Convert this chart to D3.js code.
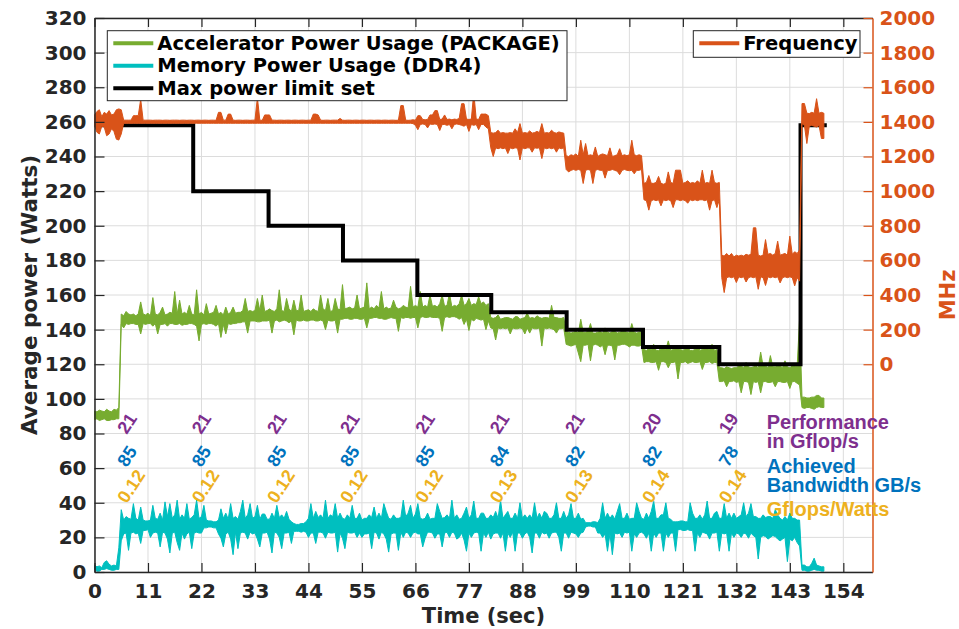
<!DOCTYPE html>
<html>
<head>
<meta charset="utf-8">
<script src="https://cdn.jsdelivr.net/npm/d3@7"></script>
<style>
  body { margin: 0; background: #fff; }
  svg { display: block; }
</style>
</head>
<body>
<svg id="chart" width="959" height="629"></svg>
<script>
// ---- Data: one sample every 0.5 s, t = 0 .. 150 s ----
const timeSec = d3.range(301).map(k => k / 2);

// Accelerator power usage (PACKAGE), W — lower / upper envelope per sample
const pkgLow = [
  88, 88.5, 87.5, 88, 88.5, 87.5, 87.5, 88, 88, 88.5,
  88.5, 143, 141, 143.5, 143, 143.5, 143.5, 143, 143, 137.5,
  143.5, 143, 143.5, 143.5, 142, 143.5, 137.5, 143, 143, 143.5,
  142, 143.5, 143.5, 143, 143, 143.5, 142.5, 143, 143, 143.5,
  143.5, 143, 142, 133.5, 143, 143.5, 143, 143.5, 143.5, 143,
  142, 143.5, 135.5, 143, 137.5, 143.5, 143, 143.5, 143.5, 144,
  144, 144.5, 144.5, 138, 145, 145, 145, 144.5, 144.5, 145,
  145, 145, 145.5, 138, 145, 145.5, 144.5, 145, 145.5, 145,
  144, 145, 137, 145.5, 145, 145, 145.5, 145, 145, 145.5,
  145.5, 145, 145, 145.5, 145, 140, 145.5, 145, 145, 145.5,
  138, 146, 146, 146.5, 146.5, 146, 146, 146.5, 146.5, 146,
  146, 146.5, 141, 146.5, 146.5, 147, 147, 146.5, 146.5, 146,
  146, 146.5, 147, 146.5, 146.5, 139, 147, 146.5, 147, 147,
  146.5, 147, 147, 141, 147, 147.5, 147, 147, 147.5, 147,
  147, 147, 146.5, 139, 147, 147.5, 147, 147.5, 147.5, 147,
  146, 147, 143, 146, 139.5, 146, 145, 146.5, 146, 145.5,
  146, 140, 145, 141, 140.5, 134, 141, 140.5, 141, 140.5,
  141, 137.5, 141, 140.5, 140.5, 141, 140.5, 137.5, 141, 138,
  141, 140.5, 140.5, 141, 130.5, 141, 140.5, 141, 140.5, 140,
  138, 140.5, 140.5, 141, 131.5, 131, 130.5, 131, 131.5, 126.5,
  121.5, 131, 131, 131.5, 122, 131, 131.5, 131, 130, 131,
  125.5, 131, 131, 130.5, 122.5, 131, 131, 131.5, 131.5, 131,
  130, 131, 131, 130.5, 130.5, 131, 121, 121.5, 121.5, 121,
  121, 121.5, 116.5, 121.5, 121.5, 121, 118, 121, 121, 121.5,
  111.5, 121, 121, 121.5, 120.5, 121, 121.5, 121, 121, 121.5,
  117, 121, 121, 121.5, 120.5, 121, 121, 110, 110, 110.5,
  107, 110, 110, 110.5, 109.5, 110, 103.5, 110, 110, 109.5,
  102.5, 110, 109.5, 110, 103.5, 110, 110, 109.5, 109.5, 110,
  107, 110, 110, 109.5, 109.5, 110, 106, 110, 110, 109,
  108, 95, 94.5, 95, 95, 94.5, 94, 95, 95.5, 95,
  95
];
const pkgHigh = [
  93, 92.5, 93.5, 93, 92.5, 94, 93, 92.5, 94, 93.5,
  95, 149, 148, 150.5, 149, 148.5, 149, 148, 149, 156,
  149, 148.5, 149.5, 148, 158.5, 149, 148.5, 150, 153, 148.5,
  149, 150, 149.5, 162, 149, 157, 149, 150, 149, 154,
  149, 148.5, 163, 149, 150, 148.5, 155, 149, 149.5, 150,
  154, 149, 150, 148.5, 153, 149, 150, 153, 149.5, 150,
  150, 151, 158, 150.5, 151, 150.5, 151, 158, 151, 160,
  150.5, 151, 152, 151, 150.5, 152, 163, 151, 150.5, 158,
  152, 150.5, 157, 151, 151, 160, 150.5, 151, 151.5, 150.5,
  152, 151, 150.5, 160, 152, 151, 158, 150.5, 151, 158,
  152, 151.5, 166, 152, 152.5, 153, 152, 152.5, 160, 152,
  152.5, 153, 167, 152, 153, 152, 154, 152.5, 162, 152,
  153, 152, 152.5, 157, 153, 152, 152.5, 154, 153, 152.5,
  165, 153, 154, 153, 162, 153, 154, 153, 160, 153.5,
  154, 153, 155, 160, 153.5, 154, 161, 153, 154, 153.5,
  155, 160, 154, 155, 158, 154, 155, 154.5, 159, 155,
  156, 154, 155, 147, 146.5, 147, 148.5, 146, 146.5, 147,
  147, 146.5, 146, 147.5, 147.5, 146, 146.5, 147, 149.5, 146.5,
  147, 146.5, 148, 147, 146.5, 147, 147, 146.5, 154, 147,
  147, 146.5, 146.5, 147, 139, 138.5, 138, 138.5, 139, 138,
  146, 138.5, 138.5, 139, 143.5, 138, 138, 138.5, 139, 138,
  141, 138.5, 138, 139, 139, 138, 138.5, 139, 139, 138.5,
  138, 143.5, 138.5, 138, 138.5, 139, 128.5, 128, 129, 128.5,
  131.5, 128, 128, 129, 129, 128.5, 133.5, 128, 128.5, 129,
  129, 128.5, 128, 129, 129.5, 128, 128, 128.5, 131, 128,
  128.5, 129, 129, 128.5, 131.5, 128, 128.5, 118, 118, 117.5,
  118.5, 118, 117.5, 118, 118, 119, 119, 118, 121, 118.5,
  118, 118.5, 119, 118, 127, 119, 119, 118, 125, 118.5,
  118.5, 119, 119, 118, 122, 118.5, 118, 119, 119, 118.5,
  146, 101, 101, 100.5, 100.5, 101, 101, 102, 102, 100.5,
  100.5
];

// Memory power usage (DDR4), W
const ddrLow = [
  1.5, 0.5, 0.5, 1.5, 1.5, 2, 1.5, 1, 1, 1.5,
  1.5, 18, 22, 22.5, 12.5, 22.5, 23, 22, 22.5, 16.5,
  24, 24, 24.5, 20, 22.5, 23, 22.5, 14.5, 23, 22.5,
  19, 11, 22.5, 23, 17, 12.5, 22.5, 19, 22, 23,
  13.5, 22.5, 23, 22.5, 22.5, 25.5, 25.5, 26, 26, 25.5,
  25.5, 22, 19.5, 14.5, 22, 23, 19, 10, 23, 13.5,
  22.5, 23, 22.5, 19, 23, 22, 22.5, 19, 14.5, 22.5,
  22.5, 23, 19, 11, 23, 22.5, 20, 13.5, 22.5, 22.5,
  23, 16.5, 23.5, 23.5, 23.5, 23, 23.5, 23, 20, 22.5,
  22.5, 16.5, 23, 23, 22.5, 19.5, 23, 22.5, 22.5, 23,
  11.5, 22.5, 19.5, 13.5, 23, 22.5, 22.5, 23, 20, 22.5,
  20, 22, 22, 22.5, 13.5, 23, 22.5, 19, 23, 22,
  19, 11.5, 22, 22.5, 22.5, 12.5, 23, 20, 23, 22.5,
  20, 22.5, 23, 22, 22, 14.5, 19.5, 23, 23, 22.5,
  19.5, 22, 22, 14.5, 22.5, 23, 20, 23, 22.5, 19,
  20, 22.5, 18.5, 12, 22.5, 20, 22.5, 23, 22.5, 12,
  22.5, 20, 23, 19, 22, 22.5, 22.5, 19.5, 22.5, 12,
  22.5, 20, 23, 12, 22.5, 22.5, 19.5, 22, 23, 20,
  11, 22.5, 22.5, 19.5, 23, 22, 22.5, 19.5, 22.5, 23,
  23, 20, 12, 22.5, 22.5, 19.5, 23, 22.5, 22, 20,
  22.5, 23, 26, 26.5, 26.5, 26, 26, 22.5, 22.5, 20,
  22, 12, 22, 10, 22.5, 22, 22.5, 20, 23, 22.5,
  23, 12, 22, 20, 22.5, 23, 22, 19.5, 22.5, 12,
  22.5, 20, 22.5, 22.5, 12, 22.5, 20, 22.5, 22.5, 12,
  24.5, 24.5, 24, 24, 24.5, 24, 24, 12, 22.5, 20,
  23, 22.5, 22, 19, 22.5, 22.5, 23, 12, 22.5, 22,
  22.5, 12, 22.5, 20, 22.5, 22, 20, 22.5, 22, 19.5,
  22.5, 21, 20, 7.5, 20, 21, 20.5, 19, 20, 21,
  20.5, 19, 18, 19, 20, 6, 19, 18, 20, 17,
  15, 1, 1, 0.5, 0.5, 1, 1.5, 1, 1, 0.5,
  0.5
];
const ddrHigh = [
  4, 3, 3.5, 2.5, 5.5, 6.5, 4.5, 3.5, 4, 3.5,
  14, 36, 30, 32, 31, 30.5, 39.5, 31, 30, 37.5,
  30, 29.5, 29.5, 30, 38.5, 31, 30.5, 34, 30, 40.5,
  32, 39.5, 31, 33, 41.5, 30.5, 33, 31, 39.5, 30.5,
  31.5, 33, 41.5, 31, 32, 38.5, 30, 29.5, 29.5, 29,
  29, 30, 36.5, 31, 34, 30.5, 39.5, 31, 32, 30.5,
  35, 41.5, 31, 33, 39.5, 31, 32, 38.5, 30.5, 33.5,
  33.5, 30.5, 30.5, 34, 31, 38.5, 31.5, 33, 31, 35,
  30.5, 29, 28, 27.5, 27.5, 28, 28, 29, 31, 39.5,
  31, 35, 31.5, 33, 31, 41.5, 31, 33, 32, 39.5,
  31, 34, 31, 30.5, 33, 31, 38.5, 31, 31, 34,
  30, 31, 31, 33, 31.5, 37.5, 31, 34, 31, 39.5,
  35, 31, 30.5, 33, 31, 31, 31.5, 41.5, 32, 34,
  38.5, 31, 33.5, 39.5, 31, 30.5, 31, 34, 30.5, 31,
  31, 39.5, 35, 31, 31.5, 33, 31, 41.5, 31, 33,
  30.5, 31, 34, 37.5, 31, 33, 41, 31, 31, 34,
  34, 31, 31, 33, 31.5, 35, 31, 41.5, 31, 33,
  35, 31, 31, 34, 31, 40, 31, 33, 31, 33,
  31, 40, 31, 34, 31, 35, 34, 31, 31, 33,
  40, 31, 31, 35, 31, 33, 39.5, 31, 31, 34,
  30.5, 31, 28.5, 28.5, 28.5, 29, 29, 28.5, 31, 40,
  31, 34, 31, 33, 30.5, 35, 39.5, 31, 31, 34,
  30.5, 31, 31, 40, 35, 31, 30.5, 34, 31, 35,
  41, 31, 31, 33, 33, 40, 31, 30.5, 29, 29,
  29, 29.5, 29.5, 29, 29, 40, 34, 31, 31, 33,
  30.5, 33, 41, 31, 31, 34, 35, 31, 31, 39.5,
  31, 34, 31, 34, 31, 32, 33, 40, 32, 34,
  39.5, 32, 32, 31, 31, 33, 31.5, 32, 32, 31,
  36, 33, 31, 30, 32, 30, 34, 31, 31, 30,
  30, 4, 4, 3, 3, 5, 8, 4, 3.5, 3,
  3
];

// Frequency, MHz
const freqLow = [
  1380, 1340, 1330, 1375, 1370, 1320, 1330, 1360, 1345, 1300,
  1295, 1330, 1392, 1392, 1392, 1392, 1392, 1392, 1392, 1392,
  1392, 1392, 1392, 1392, 1392, 1392, 1392, 1392, 1392, 1392,
  1392, 1392, 1392, 1392, 1392, 1392, 1392, 1392, 1392, 1392,
  1392, 1392, 1392, 1392, 1392, 1392, 1392, 1392, 1392, 1392,
  1392, 1392, 1392, 1392, 1392, 1392, 1392, 1392, 1392, 1392,
  1392, 1392, 1392, 1392, 1392, 1392, 1392, 1392, 1392, 1392,
  1392, 1392, 1392, 1392, 1392, 1392, 1392, 1392, 1392, 1392,
  1392, 1392, 1392, 1392, 1392, 1392, 1392, 1392, 1392, 1392,
  1392, 1392, 1392, 1392, 1392, 1392, 1392, 1392, 1392, 1392,
  1392, 1392, 1392, 1392, 1392, 1392, 1392, 1392, 1392, 1392,
  1392, 1392, 1392, 1392, 1392, 1392, 1392, 1392, 1392, 1392,
  1392, 1392, 1392, 1392, 1392, 1392, 1392, 1392, 1392, 1392,
  1392, 1390, 1380, 1355, 1385, 1388, 1385, 1365, 1388, 1385,
  1388, 1385, 1350, 1385, 1385, 1380, 1385, 1360, 1385, 1388,
  1385, 1380, 1375, 1385, 1345, 1385, 1380, 1385, 1355, 1385,
  1385, 1370, 1360, 1250, 1200, 1250, 1245, 1250, 1245, 1250,
  1217, 1250, 1245, 1250, 1248, 1180, 1250, 1245, 1250, 1250,
  1225, 1250, 1248, 1250, 1188, 1250, 1245, 1250, 1245, 1250,
  1225, 1250, 1245, 1250, 1125, 1111, 1120, 1125, 1120, 1125,
  1120, 1044, 1120, 1125, 1120, 1044, 1120, 1125, 1120, 1120,
  1075, 1120, 1120, 1125, 1120, 1115, 1095, 1120, 1125, 1120,
  1118, 1120, 1100, 1120, 1120, 1125, 950, 945, 890, 945,
  950, 945, 950, 915, 950, 945, 950, 945, 905, 950,
  950, 945, 950, 945, 930, 950, 945, 950, 945, 950,
  950, 945, 950, 890, 945, 950, 905, 950, 500, 414,
  500, 505, 500, 505, 472, 505, 500, 505, 475, 500,
  505, 500, 505, 433, 505, 500, 455, 505, 500, 505,
  500, 505, 470, 500, 505, 500, 505, 500, 453, 500,
  480, 1390, 1380, 1275, 1375, 1380, 1375, 1370, 1380, 1304,
  1304
];
const freqHigh = [
  1440, 1460, 1470, 1430, 1455, 1445, 1465, 1440, 1445, 1470,
  1475, 1470, 1410, 1410, 1410, 1410, 1436, 1436, 1436, 1530,
  1410, 1410, 1410, 1410, 1409, 1410, 1410, 1410, 1409, 1410,
  1410, 1409, 1410, 1410, 1410, 1409, 1410, 1410, 1409, 1410,
  1410, 1409, 1410, 1410, 1409, 1410, 1410, 1409, 1410, 1410,
  1409, 1455, 1455, 1410, 1410, 1445, 1445, 1410, 1409, 1410,
  1410, 1409, 1410, 1410, 1409, 1410, 1410, 1540, 1410, 1409,
  1440, 1440, 1440, 1410, 1410, 1409, 1410, 1410, 1409, 1410,
  1410, 1409, 1410, 1410, 1409, 1410, 1410, 1409, 1410, 1410,
  1445, 1445, 1440, 1410, 1409, 1410, 1410, 1409, 1410, 1410,
  1410, 1420, 1410, 1409, 1410, 1410, 1409, 1410, 1410, 1409,
  1410, 1410, 1409, 1410, 1410, 1409, 1410, 1410, 1409, 1410,
  1410, 1409, 1410, 1410, 1409, 1410, 1494, 1494, 1410, 1409,
  1410, 1412, 1410, 1436, 1436, 1414, 1412, 1414, 1440, 1440,
  1465, 1465, 1414, 1416, 1440, 1414, 1416, 1412, 1416, 1414,
  1420, 1505, 1505, 1416, 1414, 1416, 1570, 1416, 1414, 1445,
  1445, 1445, 1436, 1338, 1335, 1338, 1352, 1335, 1338, 1335,
  1335, 1338, 1335, 1360, 1338, 1390, 1335, 1338, 1335, 1348,
  1335, 1338, 1345, 1338, 1390, 1335, 1338, 1335, 1352, 1338,
  1335, 1342, 1338, 1335, 1205, 1200, 1210, 1205, 1215, 1200,
  1294, 1210, 1275, 1205, 1210, 1205, 1255, 1200, 1210, 1215,
  1210, 1205, 1250, 1200, 1205, 1210, 1245, 1205, 1210, 1205,
  1210, 1294, 1210, 1205, 1210, 1205, 1045, 1050, 1090, 1045,
  1045, 1050, 1085, 1045, 1040, 1045, 1111, 1050, 1045, 1121,
  1121, 1121, 1045, 1050, 1060, 1045, 1050, 1045, 1060, 1045,
  1121, 1045, 1050, 1045, 1121, 1050, 1045, 1050, 630, 625,
  640, 625, 640, 620, 630, 625, 630, 625, 635, 630,
  635, 788, 788, 630, 625, 630, 720, 635, 640, 630,
  640, 711, 630, 635, 640, 630, 740, 635, 650, 640,
  660, 1506, 1506, 1450, 1448, 1455, 1450, 1534, 1450, 1455,
  1450
];

// Max power limit set, W (step changes)
const limitTimes = [0, 20.3, 35.8, 51.1, 66.4, 81.6, 97.1, 112.8, 128.5, 145.2, 150.6];
const limitWatts = [258, 220, 200, 180, 160, 150, 140, 130, 120, 258, 258];

// Per-phase annotations
const phaseTimes = [5.6, 20.9, 36.4, 51.4, 66.9, 82.2, 97.7, 113.5, 129.3];
const gflops = [21, 21, 21, 21, 21, 21, 21, 20, 19];
const bandwidthGBs = [85, 85, 85, 85, 85, 84, 82, 82, 78];
const gflopsPerWatt = [0.12, 0.12, 0.12, 0.12, 0.12, 0.13, 0.13, 0.14, 0.14];

// Axis ticks
const timeTicks = [0, 11, 22, 33, 44, 55, 66, 77, 88, 99, 110, 121, 132, 143, 154];
const powerTicks = [0, 20, 40, 60, 80, 100, 120, 140, 160, 180, 200, 220, 240, 260, 280, 300, 320];
const freqTicks = [0, 200, 400, 600, 800, 1000, 1200, 1400, 1600, 1800, 2000];

// ---- Drawing ----
const C = {
  green: "#77AC30", cyan: "#00BFBF", orange: "#D95319", black: "#000000",
  purple: "#7E2F8E", blue: "#0072BD", yellow: "#EDB120", axis: "#262626", grid: "#dcdcdc"
};
const plotL = 94.5, plotR = 872.5, plotT = 18, plotB = 572;

const svg = d3.select("#chart");
const x = d3.scaleLinear().domain([0, 160]).range([plotL, plotR]);
const yL = d3.scaleLinear().domain([0, 320]).range([plotB, plotT]);
const yR = d3.scaleLinear().domain([-1200, 2000]).range([plotB, plotT]);

// grid
const grid = svg.append("g");
grid.selectAll("line.v").data(timeTicks).join("line")
  .attr("x1", d => x(d)).attr("x2", d => x(d)).attr("y1", plotT).attr("y2", plotB)
  .attr("stroke", C.grid).attr("stroke-width", 1);
grid.selectAll("line.h").data(powerTicks).join("line")
  .attr("x1", plotL).attr("x2", plotR).attr("y1", d => yL(d)).attr("y2", d => yL(d))
  .attr("stroke", C.grid).attr("stroke-width", 1);

// a noisy trace drawn as the band between its lower and upper envelope
function band(lo, hi, color, yScale) {
  const n = Math.min(lo.length, hi.length, timeSec.length);
  const area = d3.area()
    .x(i => x(timeSec[i]))
    .y0(i => yScale(lo[i]))
    .y1(i => yScale(hi[i]));
  svg.append("path").datum(d3.range(n)).attr("d", area)
    .attr("fill", color).attr("stroke", color)
    .attr("stroke-width", 1).attr("stroke-linejoin", "round");
}

band(pkgLow, pkgHigh, C.green, yL);
band(ddrLow, ddrHigh, C.cyan, yL);

// power limit step line
const stepLine = d3.line().curve(d3.curveStepAfter)
  .x((d, i) => x(limitTimes[i])).y(d => yL(d));
svg.append("path").datum(limitWatts).attr("d", stepLine)
  .attr("fill", "none").attr("stroke", C.black).attr("stroke-width", 4)
  .attr("stroke-linejoin", "miter");

band(freqLow, freqHigh, C.orange, yR);

// axes
function styleAxis(g, color, size) {
  g.select(".domain").attr("stroke", color).attr("stroke-width", 1.5);
  g.selectAll(".tick line").attr("stroke", color).attr("stroke-width", 1.2);
  g.selectAll(".tick text").attr("fill", color)
    .style("font-family", "'DejaVu Sans', sans-serif")
    .style("font-weight", "bold").style("font-size", size + "px");
}

const gB = svg.append("g").attr("transform", `translate(0,${plotB})`)
  .call(d3.axisBottom(x).tickValues(timeTicks).tickSizeInner(-9).tickSizeOuter(0).tickPadding(12));
styleAxis(gB, C.axis, 20);

const gT = svg.append("g").attr("transform", `translate(0,${plotT})`)
  .call(d3.axisTop(x).tickValues(timeTicks).tickSizeInner(-9).tickSizeOuter(0).tickFormat(() => ""));
styleAxis(gT, C.axis, 20);

const gL = svg.append("g").attr("transform", `translate(${plotL},0)`)
  .call(d3.axisLeft(yL).tickValues(powerTicks).tickSizeInner(-10).tickSizeOuter(0).tickPadding(8));
styleAxis(gL, C.axis, 20);

const gR = svg.append("g").attr("transform", `translate(${plotR},0)`)
  .call(d3.axisRight(yR).tickValues(freqTicks).tickFormat(d3.format("d"))
    .tickSizeInner(-9).tickSizeOuter(0).tickPadding(7));
styleAxis(gR, C.orange, 20);

// axis titles
const boldFont = "'DejaVu Sans', sans-serif";
svg.append("text").attr("x", (plotL + plotR) / 2).attr("y", 623)
  .attr("text-anchor", "middle").attr("fill", C.axis)
  .style("font-family", boldFont).style("font-weight", "bold").style("font-size", "21px")
  .text("Time (sec)");
svg.append("text").attr("transform", `translate(37,${(plotT + plotB) / 2}) rotate(-90)`)
  .attr("text-anchor", "middle").attr("fill", C.axis)
  .style("font-family", boldFont).style("font-weight", "bold").style("font-size", "21.5px")
  .text("Average power (Watts)");
svg.append("text").attr("transform", `translate(955,${(plotT + plotB) / 2}) rotate(-90)`)
  .attr("text-anchor", "middle").attr("fill", C.orange)
  .style("font-family", boldFont).style("font-weight", "bold").style("font-size", "21px")
  .text("MHz");

// legends
function legend(x0, y0, w, h, items) {
  const g = svg.append("g");
  g.append("rect").attr("x", x0).attr("y", y0).attr("width", w).attr("height", h)
    .attr("fill", "#fff").attr("stroke", C.axis).attr("stroke-width", 1);
  items.forEach((it, i) => {
    const cy = y0 + 12.6 + i * 22.5;
    g.append("line").attr("x1", x0 + 6).attr("x2", x0 + 46).attr("y1", cy).attr("y2", cy)
      .attr("stroke", it.color).attr("stroke-width", 4);
    g.append("text").attr("x", x0 + 50).attr("y", cy + 6.3).attr("fill", "#000")
      .style("font-family", boldFont).style("font-weight", "bold").style("font-size", "19.5px")
      .text(it.label);
  });
}
legend(107.3, 30.7, 459.7, 70, [
  { color: C.green, label: "Accelerator Power Usage (PACKAGE)" },
  { color: C.cyan, label: "Memory Power Usage (DDR4)" },
  { color: C.black, label: "Max power limit set" }
]);
legend(693.3, 30.7, 166.7, 26.6, [{ color: C.orange, label: "Frequency" }]);

// per-phase value annotations
const annot = svg.append("g")
  .style("font-family", "'Liberation Sans', Arial, sans-serif")
  .style("font-weight", "bold").style("font-size", "18px");
const fmt2 = d3.format(".2f");
phaseTimes.forEach((t, i) => {
  [[gflops[i], 81, C.purple], [bandwidthGBs[i], 62, C.blue], [fmt2(gflopsPerWatt[i]), 41, C.yellow]]
    .forEach(([label, w, color]) => {
      annot.append("text")
        .attr("transform", `translate(${x(t)},${yL(w)}) rotate(-57)`)
        .attr("dominant-baseline", "central").attr("fill", color).text(label);
    });
});

// key for the annotations
const key = svg.append("g")
  .style("font-family", "'Liberation Sans', Arial, sans-serif")
  .style("font-weight", "bold").style("font-size", "20px");
[
  ["Performance", 429.3, C.purple], ["in Gflop/s", 448.3, C.purple],
  ["Achieved", 472.7, C.blue], ["Bandwidth GB/s", 491.7, C.blue],
  ["Gflops/Watts", 516, C.yellow]
].forEach(([txt, y, color]) => {
  key.append("text").attr("x", 766.7).attr("y", y).attr("fill", color).text(txt);
});
</script>
</body>
</html>
